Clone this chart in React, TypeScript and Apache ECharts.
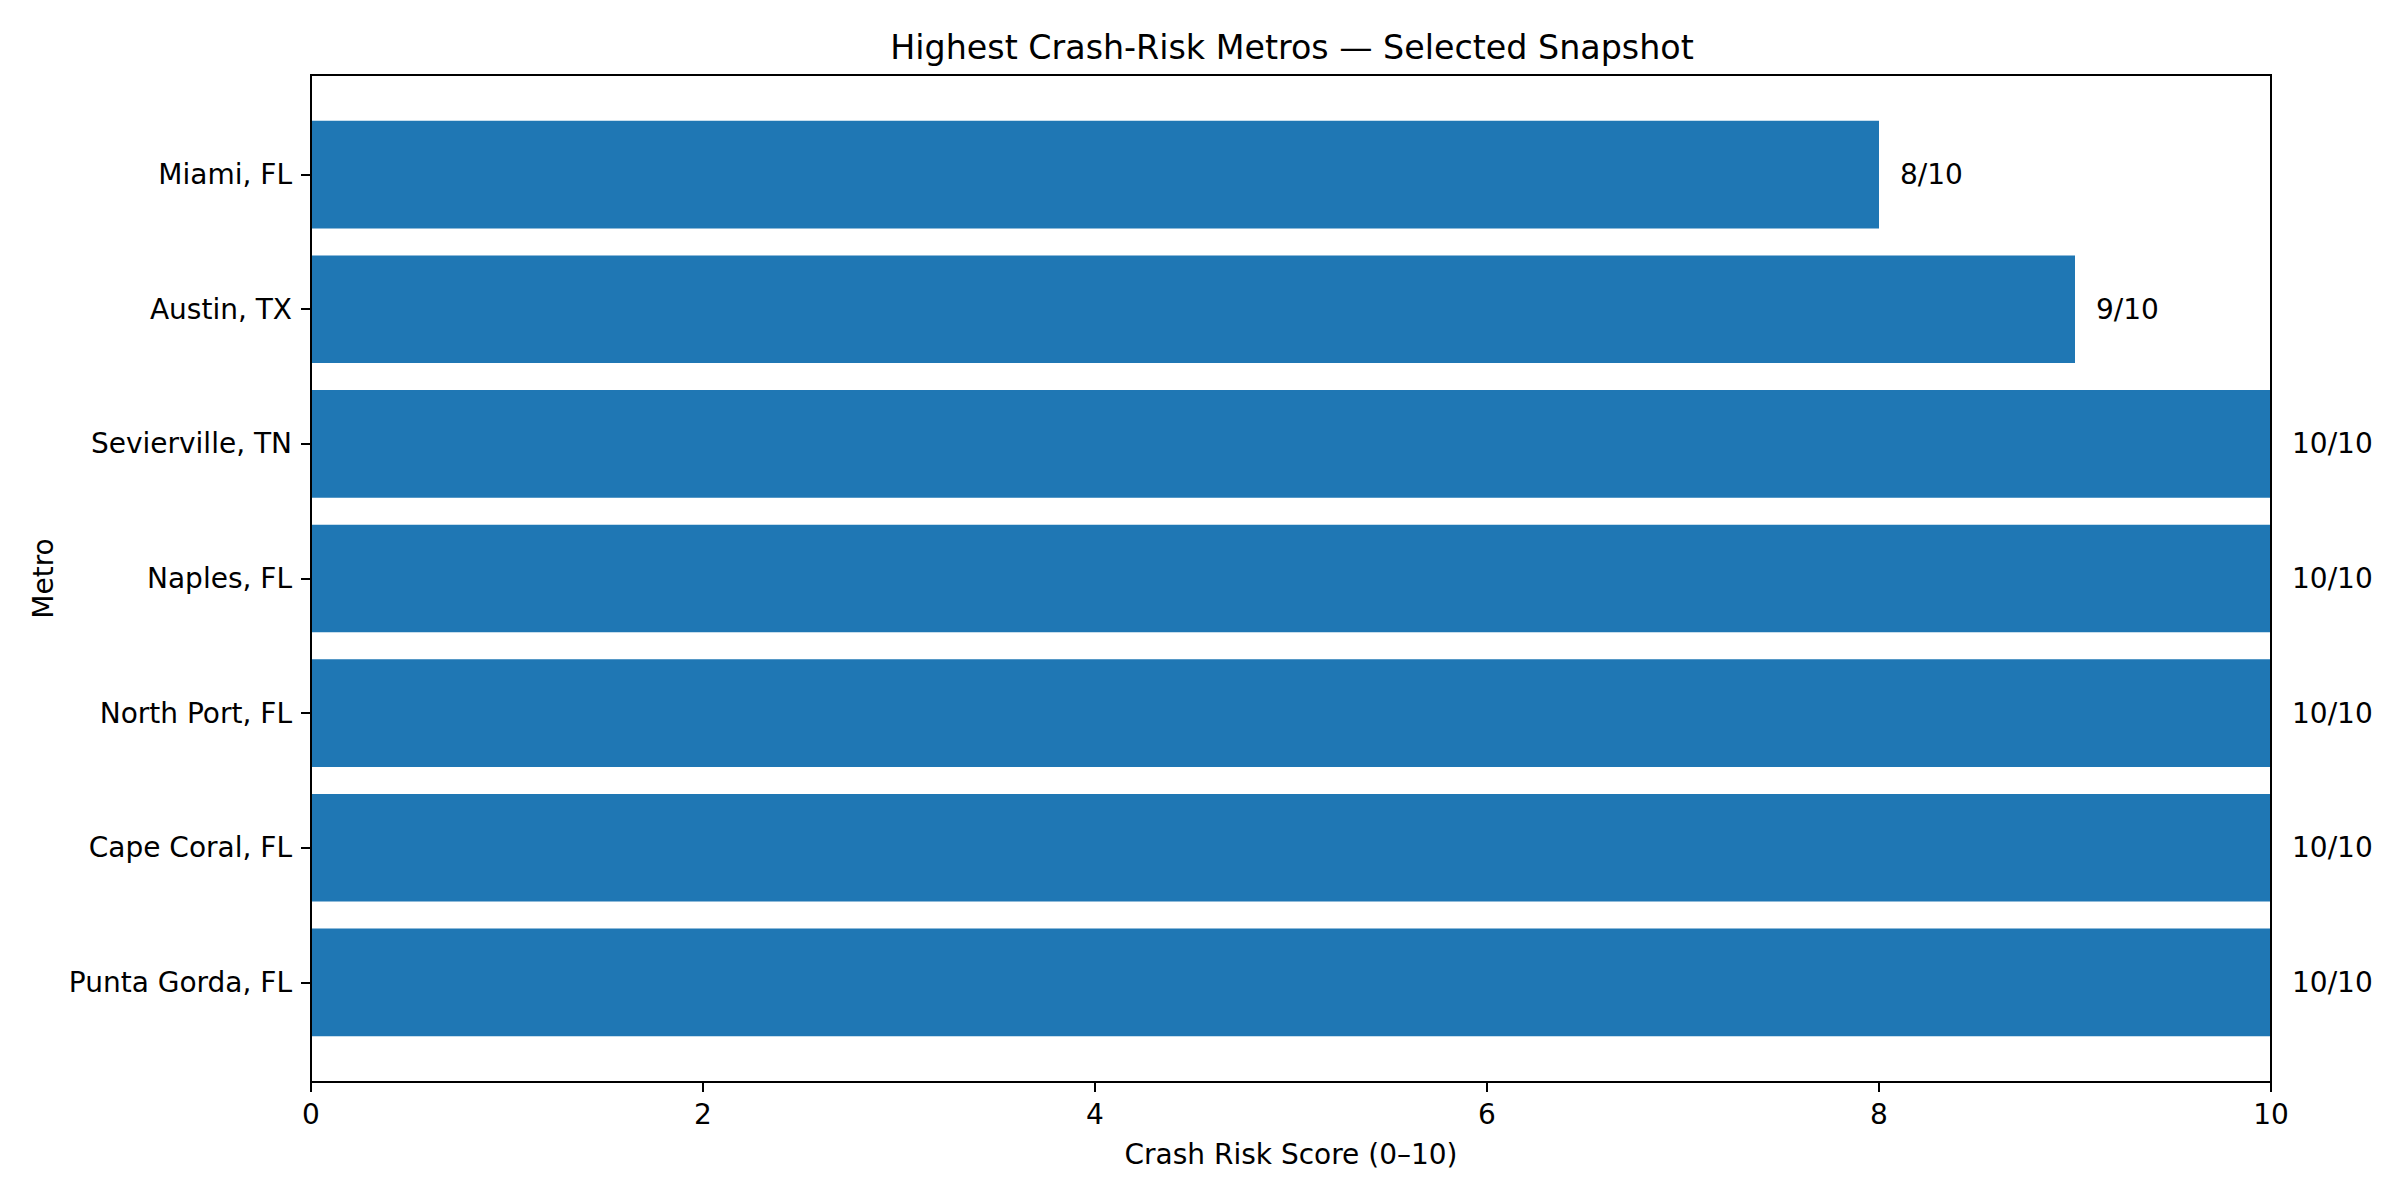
import React, { useEffect, useRef } from "react";
import * as echarts from "echarts";

const metros = [
  "Miami, FL",
  "Austin, TX",
  "Sevierville, TN",
  "Naples, FL",
  "North Port, FL",
  "Cape Coral, FL",
  "Punta Gorda, FL",
];
const scores = [8, 9, 10, 10, 10, 10, 10];
const xTicks = [0, 2, 4, 6, 8, 10];

const TITLE = "Highest Crash-Risk Metros — Selected Snapshot";
const X_NAME = "Crash Risk Score (0–10)";
const Y_NAME = "Metro";

export default function App() {
  const ref = useRef<HTMLDivElement>(null);
  useEffect(() => {
    document.body.style.margin = "0";
    if (!ref.current) return;
    const chart = echarts.init(ref.current, undefined, { renderer: "svg" });
    const L = 311, R = 2271, T = 75, B = 1082;
    const W = 2400, H = 1200;
    const span = B - T;
    const unit = span / 7.48;
    const pad = 0.24 * unit;
    const font = "DejaVu Sans";
    chart.setOption({
      animation: false,
      backgroundColor: "#fff",
      textStyle: { fontFamily: font },
      title: {
        text: TITLE,
        left: (L + R) / 2 - 4,
        top: 26,
        textAlign: "center",
        textStyle: { fontFamily: font, fontSize: 33.3, fontWeight: "normal", color: "#000" },
      },
      grid: [
        { left: L, right: W - R, top: T, bottom: H - B, show: false },
        { left: L, right: W - R, top: T + pad, bottom: H - B + pad, show: false },
      ],
      xAxis: [
        {
          gridIndex: 0,
          type: "value",
          min: 0,
          max: 10,
          interval: 2,
          data: xTicks,
          name: X_NAME,
          nameLocation: "middle",
          nameGap: 58,
          nameTextStyle: { fontFamily: font, fontSize: 28, color: "#000" },
          axisLine: { show: true, lineStyle: { color: "#000", width: 2 } },
          axisTick: { show: true, inside: false, length: 10, lineStyle: { color: "#000", width: 2 } },
          axisLabel: { margin: 18, fontFamily: font, fontSize: 28, color: "#000" },
          splitLine: { show: false },
        },
        { gridIndex: 1, type: "value", min: 0, max: 10, show: false },
      ],
      yAxis: [
        { gridIndex: 0, type: "value", show: false, min: 0, max: 1 },
        {
          gridIndex: 1,
          type: "category",
          inverse: true,
          data: metros,
          name: Y_NAME,
          nameLocation: "middle",
          nameGap: 252,
          nameRotate: 90,
          nameTextStyle: { fontFamily: font, fontSize: 28, color: "#000" },
          axisLine: { show: false },
          axisTick: { show: true, alignWithLabel: true, length: 10, lineStyle: { color: "#000", width: 2 } },
          axisLabel: { margin: 19, fontFamily: font, fontSize: 28, color: "#000" },
          splitLine: { show: false },
        },
      ],
      series: [
        {
          type: "bar",
          xAxisIndex: 1,
          yAxisIndex: 1,
          data: scores,
          barWidth: "80%",
          itemStyle: { color: "#1f77b4" },
          label: {
            show: true,
            position: "right",
            distance: 21,
            formatter: (p: any) => `${p.value}/10`,
            fontFamily: font,
            fontSize: 28,
            color: "#000",
          },
        },
      ],
      graphic: [
        {
          type: "rect",
          z: 100,
          silent: true,
          shape: { x: L, y: T, width: R - L, height: B - T },
          style: { fill: "none", stroke: "#000", lineWidth: 2 },
        },
      ],
    });
    return () => chart.dispose();
  }, []);
  return <div ref={ref} style={{ width: 2400, height: 1200 }} />;
}
